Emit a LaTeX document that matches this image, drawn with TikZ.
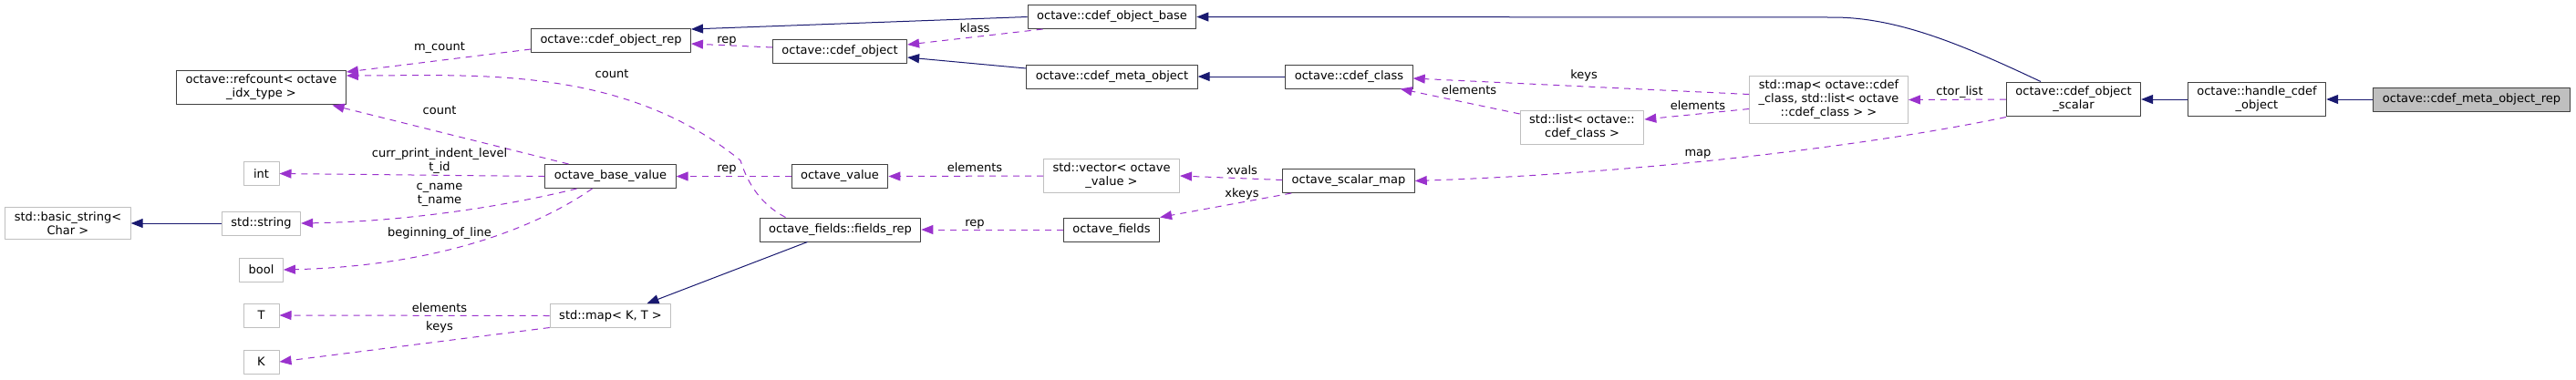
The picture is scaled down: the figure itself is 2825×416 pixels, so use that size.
\documentclass[tikz,border=0pt]{standalone}
\usepackage{fontspec}
\setmainfont{DejaVu Sans}
\usetikzlibrary{arrows.meta,calc}
\definecolor{inheritblue}{HTML}{191970}
\definecolor{usepurple}{HTML}{9A32CD}
\definecolor{extgray}{HTML}{BFBFBF}
\definecolor{boxline}{HTML}{404040}
\tikzset{
  box/.style={draw=boxline, fill=white, line width=1pt, minimum height=26pt,
    minimum width=39pt, inner xsep=10pt, inner ysep=5pt, align=center,
    font=\fontsize{13}{15}\selectfont},
  extbox/.style={box, draw=extgray},
  selfbox/.style={box, fill=extgray},
  inherit/.style={draw=inheritblue, line width=1pt,
    -{Triangle[length=13pt,width=10pt]}},
  uses/.style={draw=usepurple, line width=1pt, dash pattern=on 7pt off 6pt,
    -{Triangle[length=13pt,width=10pt]}},
  elabel/.style={anchor=base, inner sep=0pt, align=center,
    font=\fontsize{13}{15}\selectfont}
}

\begin{document}
\begin{tikzpicture}[x=1pt, y=-1pt, line join=round]

  \useasboundingbox (0,0) rectangle (2825,416);

  % Left column
  \node[box]    (refcount)  at (286.5,96)  {octave::refcount< octave\\\_idx\_type >};
  \node[extbox] (intnode)   at (286.5,190.5) {int};
  \node[extbox] (basicstr)  at (74.5,245)  {std::basic\_string<\\Char >};
  \node[extbox] (stdstring) at (286.5,245) {std::string};
  \node[extbox] (boolnode)  at (286.5,296) {bool};
  \node[extbox] (tnode)     at (286.5,346) {T};
  \node[extbox] (knode)     at (286.5,397) {K};

  % Middle
  \node[box]    (objrep)    at (670,44)      {octave::cdef\_object\_rep};
  \node[box]    (cdefobj)   at (921,56)      {octave::cdef\_object};
  \node[box]    (basevalue) at (669.5,193.5) {octave\_base\_value};
  \node[box]    (ovalue)    at (921,193.5)   {octave\_value};
  \node[box]    (fieldsrep) at (921.5,252)   {octave\_fields::fields\_rep};
  \node[extbox] (mapkt)     at (669.5,346.5) {std::map< K, T >};
  \node[box]    (objbase)   at (1219.5,18.5) {octave::cdef\_object\_base};
  \node[box]    (metaobj)   at (1219.5,84)   {octave::cdef\_meta\_object};
  \node[extbox] (vecvalue)  at (1219,193)    {std::vector< octave\\\_value >};
  \node[box]    (ofields)   at (1219,252)    {octave\_fields};
  \node[box]    (scalarmap) at (1479,198.5)  {octave\_scalar\_map};
  \node[box]    (cdefclass) at (1479.5,84)   {octave::cdef\_class};

  % Right
  \node[extbox]  (listclass) at (1735,140)    {std::list< octave::\\cdef\_class >};
  \node[extbox]  (mapclass)  at (2005.5,109.5) {std::map< octave::cdef\\\_class, std::list< octave\\::cdef\_class > >};
  \node[box]     (objscalar) at (2274,109)    {octave::cdef\_object\\\_scalar};
  \node[box]     (handleobj) at (2475,109)    {octave::handle\_cdef\\\_object};
  \node[selfbox] (metarep)   at (2710.5,109)  {octave::cdef\_meta\_object\_rep};

  % Inheritance
  \draw[inherit] (objbase.west) -- ($(objrep.east)+(0,-12)$);
  \draw[inherit] ($(metaobj.west)+(0,-9)$) -- ($(cdefobj.east)+(0,7)$);
  \draw[inherit] (cdefclass.west) -- (metaobj.east);
  \draw[inherit] ($(objscalar.north)+(-36,0)$) .. controls (2150,48) and (2080,19) .. (2010,19) -- (objbase.east);
  \draw[inherit] (handleobj.west) -- (objscalar.east);
  \draw[inherit] (metarep.west) -- (handleobj.east);
  \draw[inherit] (stdstring.west) -- (basicstr.east);
  \draw[inherit] ($(fieldsrep.south)+(-36,0)$) -- ($(mapkt.north)+(40,0)$);

  % Usage
  \draw[uses] ($(objrep.west)+(0,10)$) -- ($(refcount.east)+(0,-17)$);
  \draw[uses] ($(cdefobj.west)+(0,-4)$) -- ($(objrep.east)+(0,4)$);
  \draw[uses] ($(objbase.south)+(-76,0)$) -- ($(cdefobj.east)+(0,-7)$);
  \draw[uses] ($(fieldsrep.north)+(-60,0)$) .. controls (830,222) and (818,195) .. (812,176)
    .. controls (683,71) and (520,83) .. ($(refcount.east)+(0,-13)$);
  \draw[uses] ($(basevalue.north)+(-46,0)$) -- ($(refcount.south)+(78,0)$);
  \draw[uses] (basevalue.west) -- (intnode.east);
  \draw[uses] ($(basevalue.south)+(-37,0)$) .. controls (560,225) and (450,243) .. (stdstring.east);
  \draw[uses] ($(basevalue.south)+(-20,0)$) .. controls (580,255) and (470,292) .. (boolnode.east);
  \draw[uses] (mapkt.west) -- (tnode.east);
  \draw[uses] ($(mapkt.west)+(0,13)$) -- (knode.east);
  \draw[uses] (ovalue.west) -- (basevalue.east);
  \draw[uses] (vecvalue.west) -- (ovalue.east);
  \draw[uses] ($(scalarmap.west)+(0,-1)$) -- (vecvalue.east);
  \draw[uses] ($(scalarmap.south west)+(10,0)$) -- (ofields.north east);
  \draw[uses] (ofields.west) -- (fieldsrep.east);
  \draw[uses] ($(mapclass.west)+(0,-6)$) -- ($(cdefclass.east)+(0,2)$);
  \draw[uses] ($(mapclass.west)+(0,10)$) -- ($(listclass.east)+(0,-9)$);
  \draw[uses] ($(listclass.west)+(0,-15)$) -- ($(cdefclass.south east)+(-14,0)$);
  \draw[uses] (objscalar.west) -- (mapclass.east);
  \draw[uses] (objscalar.south west) .. controls (2050,160) and (1800,190) .. (scalarmap.east);

  % Edge labels
  \node[elabel] (lb-mcount) at (482,55.5)  {m\_count};
  \node[elabel] (lb-rep1)   at (797,47)    {rep};
  \node[elabel] (lb-klass)  at (1069,35.5) {klass};
  \node[elabel] (lb-count1) at (671,85.5)  {count};
  \node[elabel] (lb-count2) at (482,125.5) {count};
  \node[elabel] (lb-indent) at (482,187.5) {curr\_print\_indent\_level\\t\_id};
  \node[elabel] (lb-cname)  at (482,223.5) {c\_name\\t\_name};
  \node[elabel] (lb-begin)  at (482,259.5) {beginning\_of\_line};
  \node[elabel] (lb-elemT)  at (482,342.5) {elements};
  \node[elabel] (lb-keysK)  at (482,362.5) {keys};
  \node[elabel] (lb-rep2)   at (797,188.5) {rep};
  \node[elabel] (lb-elemV)  at (1069,188.5) {elements};
  \node[elabel] (lb-xvals)  at (1362,191.5) {xvals};
  \node[elabel] (lb-xkeys)  at (1362,216.5) {xkeys};
  \node[elabel] (lb-rep3)   at (1069,248.5) {rep};
  \node[elabel] (lb-keysC)  at (1737,86.5)  {keys};
  \node[elabel] (lb-elemL)  at (1611,103.5) {elements};
  \node[elabel] (lb-elemM)  at (1862,120.5) {elements};
  \node[elabel] (lb-map)    at (1862,171)   {map};
  \node[elabel] (lb-ctor)   at (2149,104.5) {ctor\_list};

\end{tikzpicture}
\end{document}
